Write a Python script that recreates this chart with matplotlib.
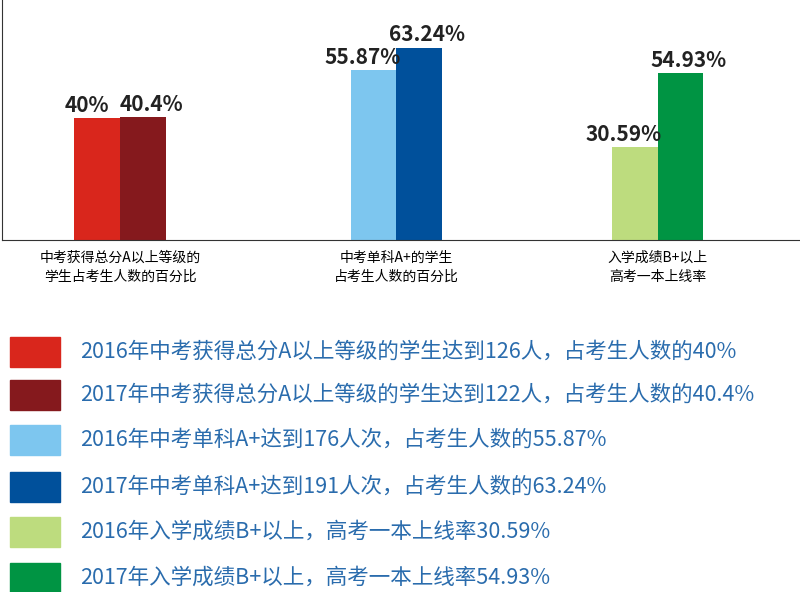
import matplotlib
matplotlib.use("Agg")
import matplotlib.pyplot as plt
from matplotlib.patches import Rectangle

plt.rcParams["font.family"] = ["Noto Sans CJK SC", "DejaVu Sans"]

categories = ["中考获得总分A以上等级的\n学生占考生人数的百分比", "中考单科A+的学生\n占考生人数的百分比", "入学成绩B+以上\n高考一本上线率"]
values_2016 = [40, 55.87, 30.59]
values_2017 = [40.4, 63.24, 54.93]
labels_2016 = ["40%", "55.87%", "30.59%"]
labels_2017 = ["40.4%", "63.24%", "54.93%"]
colors_2016 = ["#d9261c", "#7dc6ef", "#bddc7e"]
colors_2017 = ["#85191d", "#00509b", "#009443"]
legend_texts = [
    "2016年中考获得总分A以上等级的学生达到126人，占考生人数的40%",
    "2017年中考获得总分A以上等级的学生达到122人，占考生人数的40.4%",
    "2016年中考单科A+达到176人次，占考生人数的55.87%",
    "2017年中考单科A+达到191人次，占考生人数的63.24%",
    "2016年入学成绩B+以上，高考一本上线率30.59%",
    "2017年入学成绩B+以上，高考一本上线率54.93%",
]
legend_colors = [colors_2016[0], colors_2017[0], colors_2016[1], colors_2017[1], colors_2016[2], colors_2017[2]]

fig = plt.figure(figsize=(8, 5.92), dpi=100)
ax = fig.add_axes([0.003, 1 - 240/592, 0.997, 240/592])
centers = [0, 1.027, 1.997]
w = 0.17
for i, c in enumerate(centers):
    ax.bar(c - w/2, values_2016[i], w, color=colors_2016[i])
    ax.bar(c + w/2, values_2017[i], w, color=colors_2017[i])
    ax.text(c - w/2 - 0.04, values_2016[i] + 0.8, labels_2016[i], ha="center", va="bottom",
            fontsize=15, fontweight="bold", color="#222222")
    ax.text(c + w/2 + 0.03, values_2017[i] + 0.8, labels_2017[i], ha="center", va="bottom",
            fontsize=15, fontweight="bold", color="#222222")
ax.set_xlim(-0.437, 2.526)
ax.set_ylim(0, 79)
ax.set_xticks(centers)
ax.set_xticklabels(categories, fontsize=10, linespacing=1.4)
ax.tick_params(axis="x", length=0, pad=8)
ax.set_yticks([])
for s in ["top", "right"]:
    ax.spines[s].set_visible(False)
ax.spines["left"].set_color("#333333")
ax.spines["bottom"].set_color("#333333")

ys = [352, 395, 440, 487, 532, 578]
for y, t, col in zip(ys, legend_texts, legend_colors):
    fig.patches.append(Rectangle((10/800, 1 - (y + 15)/592), 50/800, 30/592,
                                 transform=fig.transFigure, color=col))
    fig.text(80/800, 1 - y/592, t, fontsize=15.5, color="#2a6cad", va="center", ha="left")

fig.savefig("out.png", dpi=100)
